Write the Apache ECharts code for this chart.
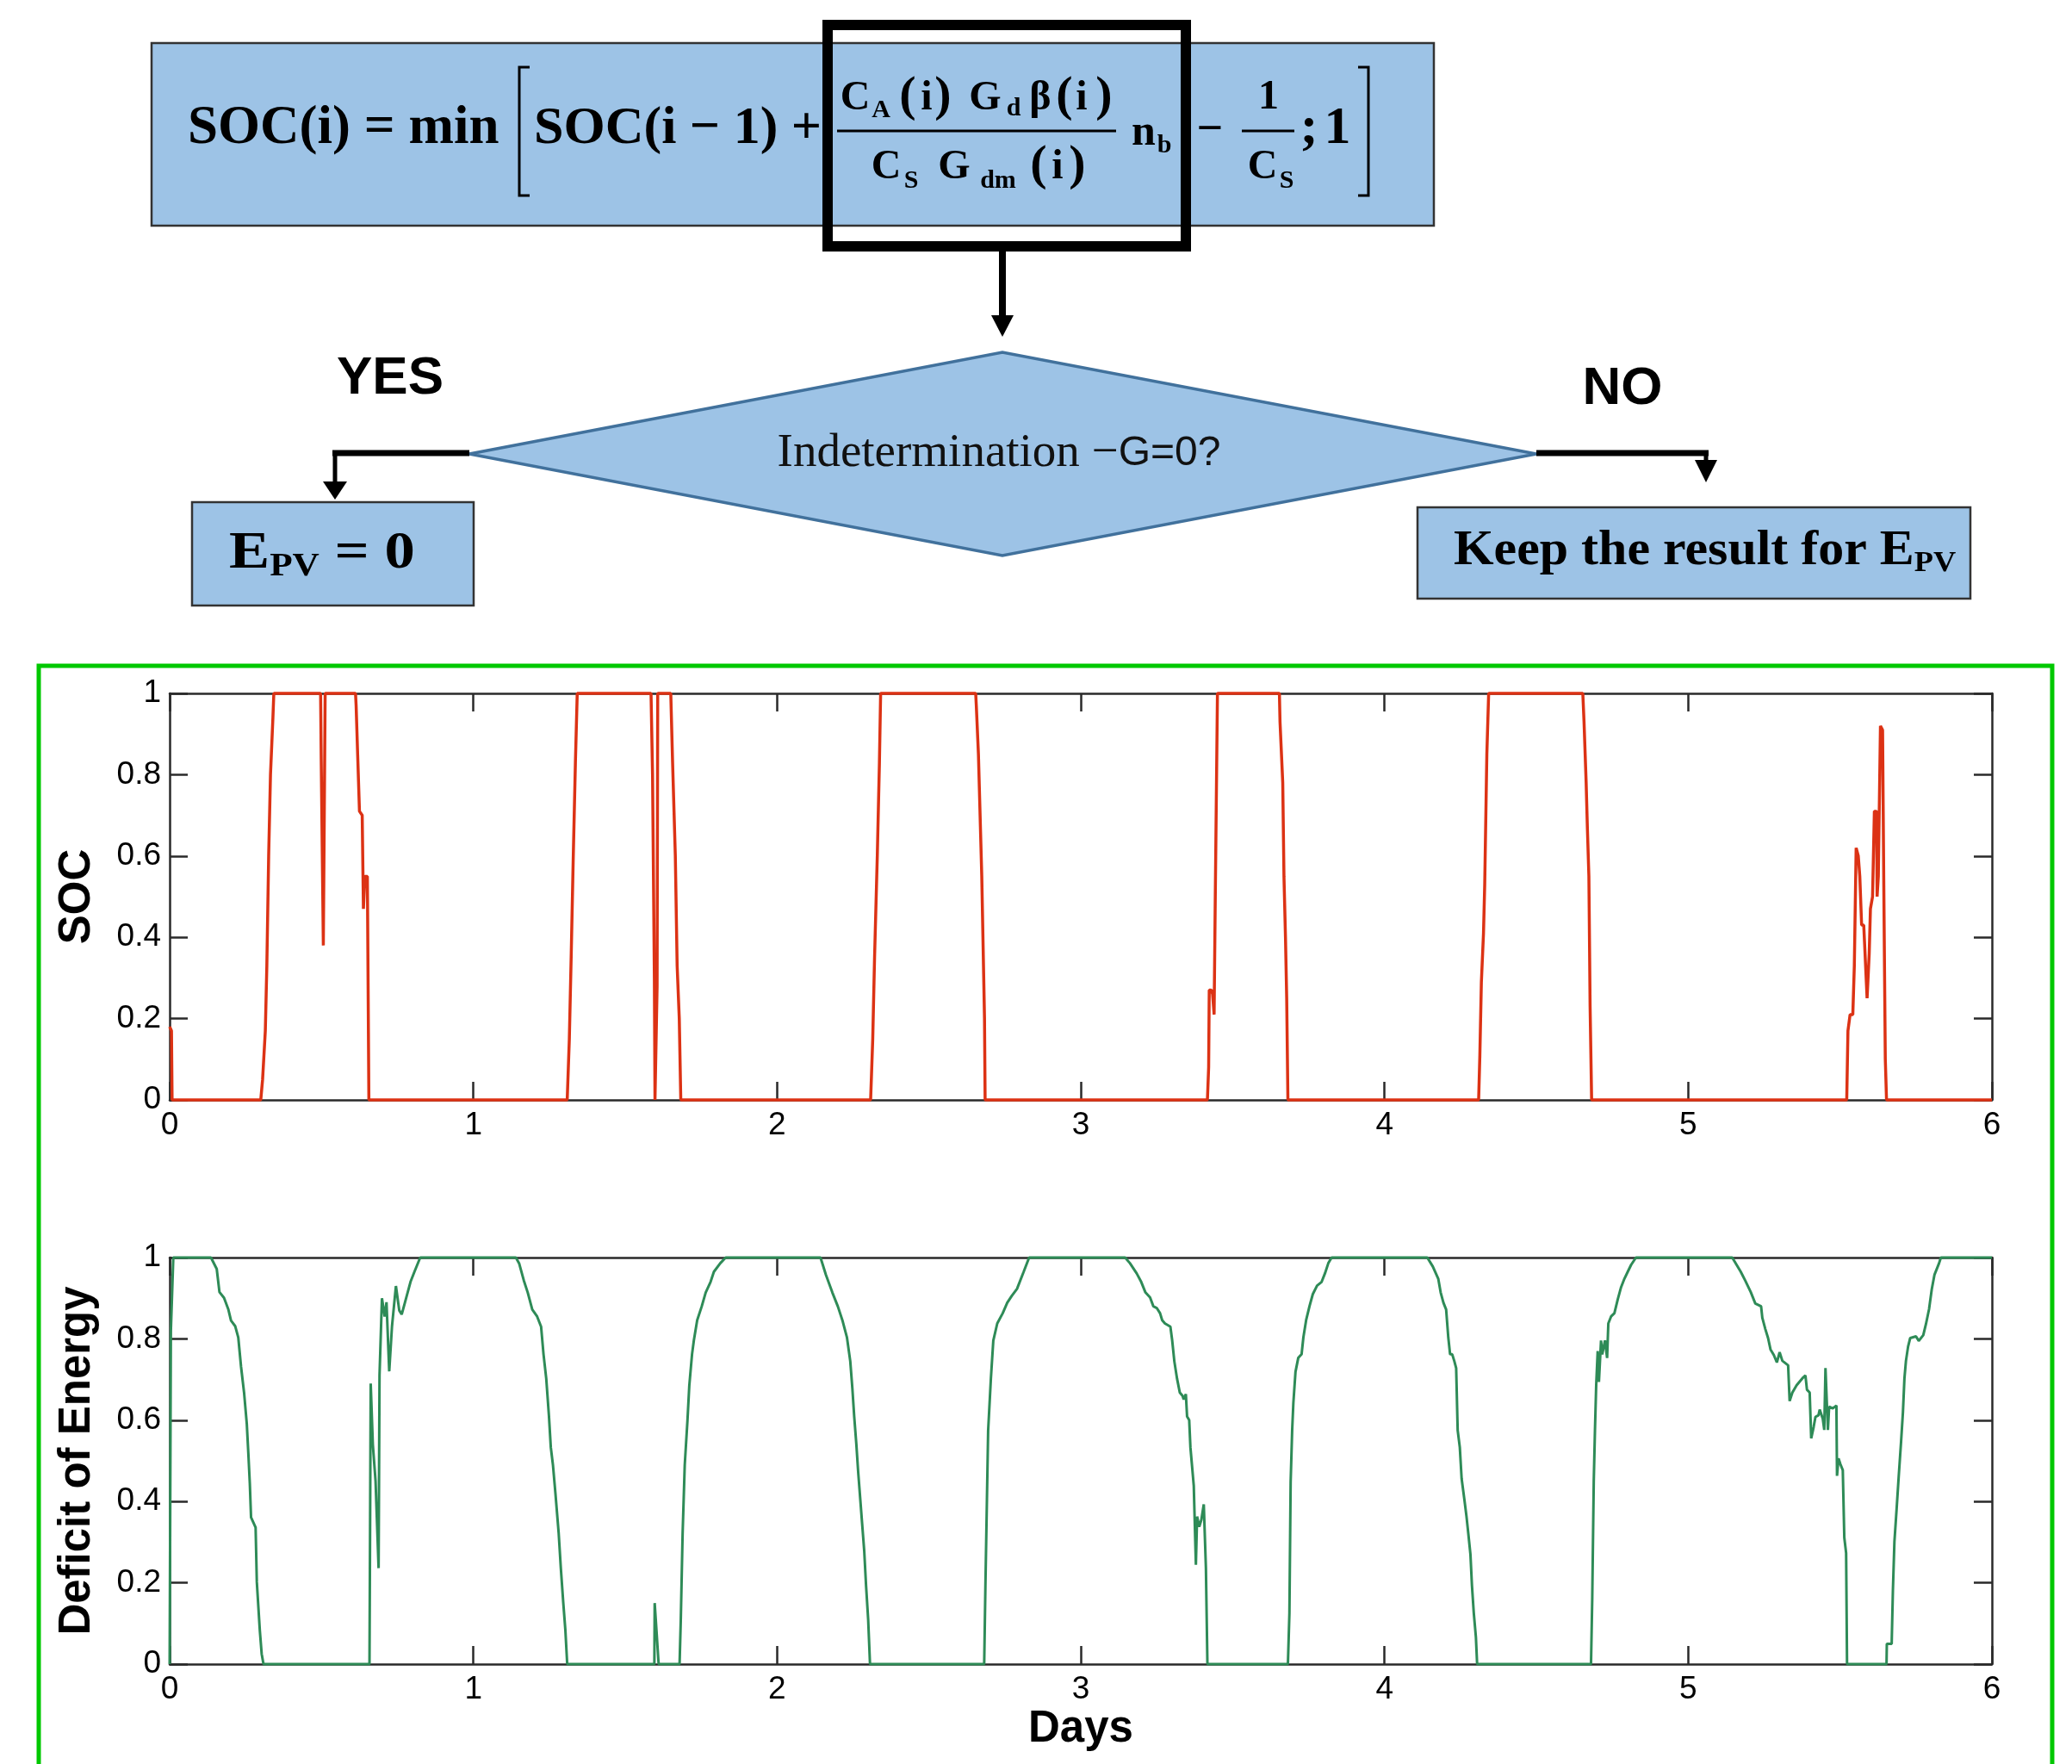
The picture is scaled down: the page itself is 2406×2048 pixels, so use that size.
<!DOCTYPE html>
<html>
<head>
<meta charset="utf-8">
<title>SOC / Deficit of Energy</title>
<script src="https://cdn.jsdelivr.net/npm/echarts@6/dist/echarts.min.js"></script>
<style>
  html, body { margin: 0; padding: 0; background: #fff; }
  #main { width: 2406px; height: 2048px; }
</style>
</head>
<body>
<div id="main"></div>
<script>
// SOC trace, [day, value]
var socPoints = [
  [0, 0.18], [0.006, 0.17], [0.008, 0],
  [0.300, 0], [0.306, 0.05], [0.315, 0.17], [0.320, 0.33], [0.326, 0.6], [0.332, 0.8], [0.340, 0.94], [0.343, 1],
  [0.497, 1], [0.499, 0.84], [0.506, 0.38], [0.509, 0.38], [0.512, 1],
  [0.612, 1], [0.614, 0.97], [0.619, 0.85], [0.625, 0.71], [0.634, 0.70], [0.638, 0.47], [0.643, 0.55], [0.651, 0.55], [0.656, 0],
  [1.309, 0], [1.316, 0.15], [1.322, 0.35], [1.329, 0.6], [1.336, 0.83], [1.342, 1],
  [1.585, 1], [1.590, 0.8], [1.596, 0.3], [1.598, 0], [1.603, 0], [1.605, 0.28], [1.607, 1],
  [1.650, 1], [1.656, 0.83], [1.665, 0.6], [1.671, 0.33], [1.678, 0.2], [1.683, 0],
  [2.308, 0], [2.315, 0.15], [2.321, 0.35], [2.330, 0.6], [2.337, 0.83], [2.341, 1],
  [2.654, 1], [2.656, 0.97], [2.663, 0.85], [2.674, 0.55], [2.683, 0.2], [2.685, 0],
  [3.417, 0], [3.421, 0.08], [3.423, 0.27], [3.430, 0.27], [3.434, 0.26], [3.439, 0.21], [3.443, 0.51], [3.450, 1],
  [3.654, 1], [3.656, 0.93], [3.665, 0.78], [3.669, 0.55], [3.674, 0.4], [3.678, 0.25], [3.682, 0],
  [4.310, 0], [4.314, 0.11], [4.319, 0.29], [4.326, 0.41], [4.330, 0.53], [4.337, 0.85], [4.343, 1],
  [4.653, 1], [4.657, 0.93], [4.664, 0.78], [4.668, 0.67], [4.673, 0.55], [4.677, 0.23], [4.682, 0],
  [5.522, 0], [5.526, 0.17], [5.533, 0.21], [5.542, 0.21], [5.547, 0.33], [5.553, 0.62], [5.560, 0.6],
  [5.565, 0.55], [5.571, 0.43], [5.578, 0.43], [5.589, 0.25], [5.596, 0.36], [5.600, 0.47], [5.607, 0.5],
  [5.613, 0.71], [5.620, 0.71], [5.622, 0.5], [5.626, 0.55], [5.633, 0.92], [5.640, 0.91], [5.644, 0.53],
  [5.649, 0.1], [5.653, 0],
  [6, 0]
];

// Deficit of energy trace, [day, value]
var deficitPoints = [
  [0, 0], [0.004, 0.82], [0.012, 1],
  [0.136, 1], [0.155, 0.972], [0.164, 0.915], [0.179, 0.901], [0.193, 0.873], [0.202, 0.845], [0.216, 0.831],
  [0.226, 0.803], [0.235, 0.732], [0.245, 0.668], [0.254, 0.591], [0.259, 0.520], [0.264, 0.443], [0.268, 0.361],
  [0.283, 0.336], [0.287, 0.202], [0.297, 0.082], [0.303, 0.025], [0.309, 0],
  [0.658, 0], [0.662, 0.69], [0.669, 0.54], [0.678, 0.45], [0.688, 0.236], [0.691, 0.71], [0.699, 0.90],
  [0.708, 0.855], [0.714, 0.89], [0.723, 0.72], [0.732, 0.83], [0.745, 0.93], [0.756, 0.87], [0.764, 0.86],
  [0.775, 0.89], [0.793, 0.94], [0.806, 0.965], [0.825, 1],
  [1.140, 1], [1.151, 0.985], [1.166, 0.944], [1.179, 0.914], [1.194, 0.872], [1.210, 0.855], [1.223, 0.83],
  [1.231, 0.762], [1.240, 0.702], [1.249, 0.609], [1.255, 0.533], [1.262, 0.49], [1.270, 0.422], [1.281, 0.321],
  [1.288, 0.236], [1.296, 0.151], [1.303, 0.083], [1.309, 0],
  [1.596, 0], [1.597, 0.15], [1.602, 0.15], [1.604, 0.07], [1.609, 0.07], [1.610, 0],
  [1.679, 0], [1.683, 0.109], [1.689, 0.321], [1.696, 0.49], [1.705, 0.6], [1.711, 0.685], [1.720, 0.762],
  [1.726, 0.796], [1.737, 0.846], [1.752, 0.88], [1.765, 0.914], [1.781, 0.94], [1.792, 0.965], [1.813, 0.986], [1.831, 1],
  [2.143, 1], [2.161, 0.957], [2.182, 0.914], [2.200, 0.88], [2.215, 0.846], [2.230, 0.804], [2.241, 0.745],
  [2.248, 0.677], [2.254, 0.609], [2.261, 0.541], [2.267, 0.473], [2.274, 0.405], [2.280, 0.346], [2.287, 0.278],
  [2.293, 0.193], [2.300, 0.109], [2.306, 0],
  [2.682, 0], [2.686, 0.193], [2.691, 0.405], [2.695, 0.575], [2.704, 0.702], [2.712, 0.796], [2.725, 0.838],
  [2.743, 0.863], [2.758, 0.889], [2.773, 0.906], [2.790, 0.923], [2.812, 0.965], [2.830, 1],
  [3.146, 1], [3.162, 0.986], [3.184, 0.961], [3.199, 0.94], [3.213, 0.914], [3.228, 0.902], [3.239, 0.88],
  [3.250, 0.876], [3.261, 0.863], [3.268, 0.846], [3.277, 0.838], [3.295, 0.83], [3.301, 0.796], [3.308, 0.745],
  [3.317, 0.702], [3.326, 0.668], [3.335, 0.66], [3.339, 0.651], [3.346, 0.664], [3.350, 0.609], [3.357, 0.6],
  [3.361, 0.533], [3.366, 0.49], [3.372, 0.439], [3.379, 0.244], [3.383, 0.363], [3.390, 0.338], [3.397, 0.355],
  [3.405, 0.393], [3.412, 0.236], [3.417, 0],
  [3.682, 0], [3.687, 0.126], [3.691, 0.448], [3.696, 0.575], [3.700, 0.643], [3.707, 0.719], [3.716, 0.753],
  [3.727, 0.762], [3.733, 0.804], [3.742, 0.846], [3.753, 0.88], [3.764, 0.91], [3.778, 0.931], [3.793, 0.94],
  [3.804, 0.961], [3.815, 0.986], [3.826, 1],
  [4.141, 1], [4.159, 0.978], [4.177, 0.948], [4.185, 0.914], [4.194, 0.889], [4.203, 0.872], [4.210, 0.804],
  [4.216, 0.762], [4.223, 0.762], [4.230, 0.745], [4.236, 0.728], [4.241, 0.575], [4.248, 0.533], [4.254, 0.456],
  [4.263, 0.405], [4.270, 0.363], [4.276, 0.321], [4.283, 0.27], [4.288, 0.193], [4.294, 0.126], [4.301, 0.066], [4.305, 0],
  [4.680, 0], [4.684, 0.159], [4.689, 0.448], [4.693, 0.575], [4.697, 0.685], [4.702, 0.77], [4.706, 0.694],
  [4.713, 0.796], [4.717, 0.762], [4.726, 0.796], [4.733, 0.753], [4.737, 0.838], [4.746, 0.855], [4.757, 0.863],
  [4.768, 0.897], [4.779, 0.927], [4.790, 0.948], [4.801, 0.965], [4.812, 0.982], [4.828, 1],
  [5.145, 1], [5.173, 0.965], [5.188, 0.943], [5.206, 0.915], [5.221, 0.887], [5.240, 0.880], [5.244, 0.852],
  [5.254, 0.824], [5.263, 0.802], [5.271, 0.774], [5.282, 0.760], [5.292, 0.742], [5.301, 0.767], [5.310, 0.746],
  [5.329, 0.735], [5.334, 0.647], [5.343, 0.668], [5.357, 0.686], [5.376, 0.703], [5.386, 0.710], [5.391, 0.675],
  [5.400, 0.668], [5.405, 0.555], [5.413, 0.583], [5.419, 0.608], [5.429, 0.612], [5.433, 0.626], [5.443, 0.604],
  [5.448, 0.576], [5.452, 0.728], [5.460, 0.576], [5.464, 0.633], [5.476, 0.629], [5.488, 0.636], [5.490, 0.463],
  [5.495, 0.506], [5.501, 0.492], [5.509, 0.477], [5.514, 0.311], [5.520, 0.273], [5.523, 0],
  [5.653, 0], [5.654, 0.05], [5.670, 0.05], [5.674, 0.181], [5.679, 0.301], [5.686, 0.379], [5.693, 0.460],
  [5.701, 0.548], [5.707, 0.619], [5.712, 0.703], [5.717, 0.746], [5.724, 0.781], [5.731, 0.802], [5.750, 0.806],
  [5.759, 0.795], [5.774, 0.809], [5.783, 0.837], [5.793, 0.873], [5.802, 0.922], [5.811, 0.958], [5.826, 0.986],
  [5.832, 1],
  [6, 1]
];

var axisColor = '#2a2a2a';
var boxBlue = '#9dc3e6';
var serif = 'Liberation Serif';
var sans = 'Liberation Sans';

// plain text piece of the flowchart
function txt(str, x, y, size, opt) {
  opt = opt || {};
  return {
    type: 'text', x: x, y: y, silent: true, z: 20,
    scaleX: opt.scaleX || 1,
    style: {
      text: str,
      fill: '#000',
      fontSize: size,
      fontFamily: opt.family || serif,
      fontWeight: opt.weight || 'bold',
      align: opt.align || 'center',
      verticalAlign: 'middle',
      rich: opt.rich
    }
  };
}

function seg(x1, y1, x2, y2, w) {
  return { type: 'line', silent: true, z: 20, shape: { x1: x1, y1: y1, x2: x2, y2: y2 }, style: { stroke: '#000', lineWidth: w } };
}

function head(points) {
  return { type: 'polygon', silent: true, z: 20, shape: { points: points }, style: { fill: '#000' } };
}

function bracket(points) {
  return { type: 'polyline', silent: true, z: 20, shape: { points: points }, style: { stroke: '#000', lineWidth: 3, fill: null } };
}

function box(x, y, w, h) {
  return { type: 'rect', silent: true, z: 10, shape: { x: x, y: y, width: w, height: h }, style: { fill: boxBlue, stroke: '#333', lineWidth: 2.5 } };
}

var flow = [
  // formula
  box(176, 50, 1489, 212),
  txt('SOC(i) = min', 218, 150, 63, { align: 'left' }),
  bracket([[615, 78], [603, 78], [603, 227], [615, 227]]),
  txt('SOC(i − 1) +', 620, 150, 62, { align: 'left' }),
  txt('C', 993, 115, 48), txt('A', 1023, 128, 30),
  txt('(', 1054, 113, 58), txt('i', 1076, 115, 48), txt(')', 1095, 113, 58),
  txt('G', 1144, 115, 48), txt('d', 1177, 126, 30), txt('β', 1208, 115, 48),
  txt('(', 1236, 113, 58), txt('i', 1256, 115, 48), txt(')', 1282, 113, 58),
  seg(972, 152, 1296, 152, 3),
  txt('C', 1029, 195, 48), txt('S', 1058, 210, 30),
  txt('G', 1108, 195, 48), txt('dm', 1159, 210, 30),
  txt('(', 1206, 193, 58), txt('i', 1228, 195, 48), txt(')', 1251, 193, 58),
  txt('n', 1328, 155, 50), txt('b', 1352, 169, 30),
  txt('−', 1405, 152, 54),
  txt('1', 1473, 114, 48),
  seg(1442, 152, 1503, 152, 3),
  txt('C', 1466, 195, 48), txt('S', 1494, 210, 30),
  txt(';', 1520, 150, 62), txt('1', 1553, 150, 62),
  bracket([[1577, 78], [1589, 78], [1589, 227], [1577, 227]]),
  { type: 'rect', silent: true, z: 30, shape: { x: 961, y: 29, width: 416, height: 257 }, style: { fill: null, stroke: '#000', lineWidth: 12 } },
  seg(1164, 291, 1164, 368, 8),
  head([[1151, 366], [1177, 366], [1164, 391]]),

  // decision
  { type: 'polygon', silent: true, z: 10, shape: { points: [[545, 527], [1164, 409], [1784, 527], [1164, 645]] }, style: { fill: boxBlue, stroke: '#41719c', lineWidth: 3.5 } },
  txt('{s|Indetermination −}{a|G=0?}', 1160, 527, 55, {
    rich: {
      s: { fontSize: 55, fontFamily: serif, fontWeight: 'normal', fill: '#111' },
      a: { fontSize: 48, fontFamily: sans, fontWeight: 'normal', fill: '#111' }
    }
  }),
  txt('YES', 453, 440, 62, { family: sans }),
  txt('NO', 1884, 452, 62, { family: sans }),
  seg(386, 526, 545, 526, 7),
  seg(389, 523, 389, 562, 5),
  head([[375, 559], [403, 559], [389, 580]]),
  seg(1784, 526, 1984, 526, 7),
  seg(1981, 523, 1981, 536, 5),
  head([[1968, 534], [1994, 534], [1981, 560]]),

  // outcomes
  box(223, 583, 327, 120),
  txt('{e|E}{es|PV}{e| = 0}', 266, 643, 62, {
    align: 'left', scaleX: 1.14,
    rich: {
      e: { fontSize: 62, fontFamily: serif, fontWeight: 'bold', fill: '#000' },
      es: { fontSize: 38, fontFamily: serif, fontWeight: 'bold', fill: '#000', padding: [30, 0, 0, 0] }
    }
  }),
  box(1646, 589, 642, 106),
  txt('{k|Keep the result for E}{ks|PV}', 1688, 641, 56, {
    align: 'left', scaleX: 1.07,
    rich: {
      k: { fontSize: 56, fontFamily: serif, fontWeight: 'bold', fill: '#000' },
      ks: { fontSize: 34, fontFamily: serif, fontWeight: 'bold', fill: '#000', padding: [26, 0, 0, 0] }
    }
  }),

  // green frame round the plots
  { type: 'rect', silent: true, z: 5, shape: { x: 45, y: 773, width: 2338, height: 1400 }, style: { fill: null, stroke: '#00c800', lineWidth: 5 } }
];

function xAxisFor(grid, pos, withLabels, name) {
  return {
    type: 'value', gridIndex: grid, position: pos,
    min: 0, max: 6, interval: 1,
    name: name || '', nameLocation: 'middle', nameGap: 50,
    nameTextStyle: { fontSize: 51, fontWeight: 'bold', fontFamily: sans, color: '#000' },
    axisLine: { show: true, onZero: false, lineStyle: { color: axisColor, width: 2.5 } },
    axisTick: { show: true, inside: true, length: 21, lineStyle: { color: axisColor, width: 2.5 } },
    axisLabel: { show: withLabels, color: '#000', fontSize: 37, fontFamily: sans, margin: 11 },
    splitLine: { show: false }
  };
}

function yAxisFor(grid, pos, withLabels, name) {
  return {
    type: 'value', gridIndex: grid, position: pos,
    min: 0, max: 1, interval: 0.2,
    name: name || '', nameLocation: 'middle', nameGap: 82,
    nameTextStyle: { fontSize: 51, fontWeight: 'bold', fontFamily: sans, color: '#000' },
    axisLine: { show: true, onZero: false, lineStyle: { color: axisColor, width: 2.5 } },
    axisTick: { show: true, inside: true, length: 21, lineStyle: { color: axisColor, width: 2.5 } },
    axisLabel: { show: withLabels, color: '#000', fontSize: 37, fontFamily: sans, margin: 10 },
    splitLine: { show: false }
  };
}

var chart = echarts.init(document.getElementById('main'));
chart.setOption({
  animation: false,
  backgroundColor: '#fff',
  grid: [
    { left: 197, top: 805, width: 2116, height: 472 },
    { left: 197, top: 1460, width: 2116, height: 472 }
  ],
  xAxis: [
    xAxisFor(0, 'bottom', true),
    xAxisFor(0, 'top', false),
    xAxisFor(1, 'bottom', true, 'Days'),
    xAxisFor(1, 'top', false)
  ],
  yAxis: [
    yAxisFor(0, 'left', true, 'SOC'),
    yAxisFor(0, 'right', false),
    yAxisFor(1, 'left', true, 'Deficit of Energy'),
    yAxisFor(1, 'right', false)
  ],
  series: [
    {
      name: 'SOC', type: 'line', xAxisIndex: 0, yAxisIndex: 0,
      data: socPoints, showSymbol: false, clip: false,
      lineStyle: { color: '#dc3214', width: 3.5 }
    },
    {
      name: 'Deficit of Energy', type: 'line', xAxisIndex: 2, yAxisIndex: 2,
      data: deficitPoints, showSymbol: false, clip: false,
      lineStyle: { color: '#2e8b57', width: 3 }
    }
  ],
  graphic: { elements: flow }
});
</script>
</body>
</html>
